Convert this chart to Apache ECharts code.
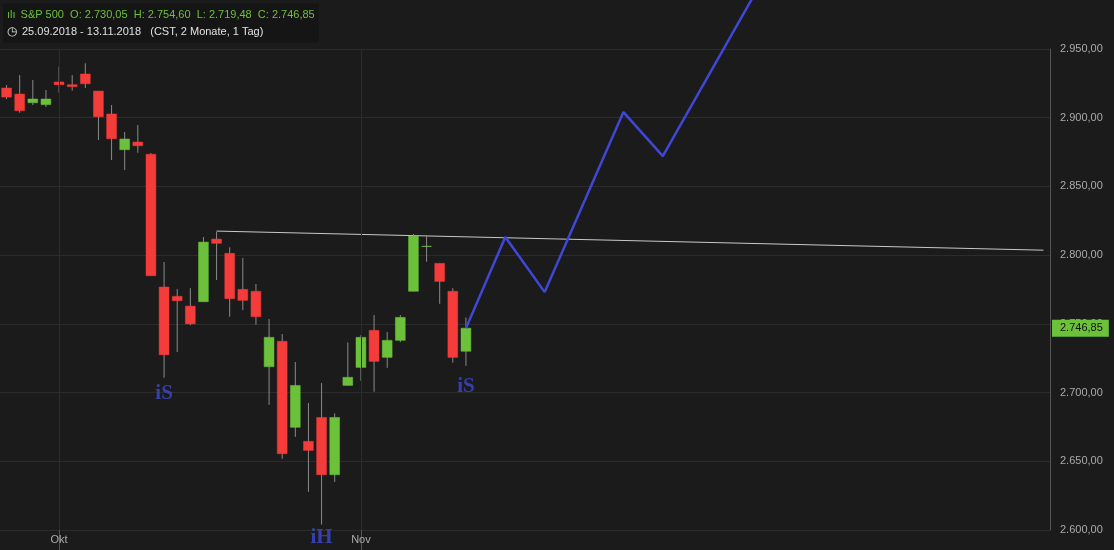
<!DOCTYPE html>
<html><head><meta charset="utf-8">
<script src="https://cdn.jsdelivr.net/npm/echarts@6/dist/echarts.min.js"></script>
<style>html,body{margin:0;background:#1b1b1b}#c{width:1114px;height:550px}</style>
</head><body><div id="c"></div>
<script>
const dates = ['25.09','26.09','27.09','28.09','01.10','02.10','03.10','04.10','05.10','08.10','09.10','10.10','11.10','12.10','15.10','16.10','17.10','18.10','19.10','22.10','23.10','24.10','25.10','26.10','29.10','30.10','31.10','01.11','02.11','05.11','06.11','07.11','08.11','09.11','12.11','13.11'];
const opens  = [2921.6,2917.2,2910.9,2909.5,2926.0,2924.0,2931.8,2919.4,2902.7,2876.7,2882.3,2873.4,2776.8,2770.0,2762.9,2766.1,2811.7,2801.3,2775.1,2773.7,2718.8,2737.3,2674.7,2664.5,2681.9,2640.2,2705.2,2718.3,2745.3,2725.6,2738.0,2773.7,2806.4,2794.0,2773.7,2730.05];
const closes = [2915.0,2905.1,2913.6,2913.6,2924.0,2922.6,2924.7,2900.7,2884.7,2884.5,2879.6,2785.0,2727.5,2766.8,2750.0,2809.5,2808.6,2768.3,2767.1,2755.2,2740.2,2655.5,2705.2,2657.9,2640.2,2681.9,2711.1,2740.2,2722.7,2738.0,2754.7,2813.9,2806.4,2780.9,2725.6,2746.85];
const lows   = [2913.6,2903.6,2909.2,2907.8,2918.2,2919.7,2921.6,2883.8,2869.2,2861.9,2874.5,2785.0,2710.8,2729.5,2749.0,2766.0,2781.9,2755.2,2760.0,2749.4,2691.1,2651.8,2667.8,2627.8,2604.0,2635.0,2705.2,2708.6,2700.6,2718.0,2736.7,2773.7,2795.2,2764.6,2721.7,2719.48];
const highs  = [2923.8,2931.0,2927.4,2920.2,2937.1,2931.0,2939.6,2919.4,2909.2,2889.6,2894.7,2874.3,2795.0,2775.3,2776.0,2813.2,2817.0,2805.7,2797.9,2779.0,2753.5,2742.6,2722.2,2692.4,2706.9,2684.9,2736.5,2741.8,2756.4,2744.0,2756.4,2815.4,2814.6,2794.0,2776.0,2754.6];
const projIdx = [35,38,41,47,50,57];
const projVal = [2746.85,2813.2,2773.1,2904.1,2872.1,2990];
const resIdx = [16,79];
const resVal = [2817.5,2803.6];
const monthLabels = {4:'Okt',27:'Nov'};
const N = 80;
const cats = []; for(let i=0;i<N;i++) cats.push(i<dates.length?dates[i]:'f'+i);
const ohlc = dates.map((d,i)=>[i,opens[i],closes[i],lows[i],highs[i]]);
const proj = new Array(N).fill(null); projIdx.forEach((x,k)=>proj[x]=projVal[k]);
const res = new Array(N).fill(null); res[resIdx[0]]=resVal[0]; res[resIdx[1]]=resVal[1];
const fmt = v => { const s=v.toFixed(2).split('.'); return s[0].replace(/\B(?=(\d{3})+(?!\d))/g,'.')+','+s[1]; };
const GREEN='#6cc13a', RED='#f43c3a';
const last = closes[closes.length-1];
const chart = echarts.init(document.getElementById('c'));
const showIdx = (i)=> monthLabels[i]!==undefined;
chart.setOption({
  backgroundColor:'#1b1b1b', animation:false,
  grid:{left:-3,right:64,top:49,bottom:20},
  xAxis:{type:'category',data:cats,boundaryGap:true,
    axisLine:{show:false},
    axisTick:{show:true,interval:(i)=>showIdx(i),alignWithLabel:true,length:20,lineStyle:{color:'#555'}},
    axisLabel:{interval:(i)=>showIdx(i),formatter:(v,i)=>monthLabels[i]||'',color:'#aaa',fontSize:11,fontFamily:'Liberation Sans',margin:4},
    splitLine:{show:false}},
  yAxis:{type:'value',position:'right',min:2600,max:2950,interval:50,
    axisLine:{show:true,lineStyle:{color:'#555'}},axisTick:{show:false},
    splitLine:{lineStyle:{color:'#2c2c2c'}},
    axisLabel:{formatter:fmt,color:'#aaa',fontSize:11,fontFamily:'Liberation Sans',margin:10}},
  title:{text:'{ic|ılı} {g|S&P 500  O: 2.730,05  H: 2.754,60  L: 2.719,48  C: 2.746,85}\n{ic2|◷} {w|25.09.2018 - 13.11.2018   (CST, 2 Monate, 1 Tag)}',
    left:3,top:4,padding:[2,4],backgroundColor:'rgba(20,20,20,0.85)',
    textStyle:{fontWeight:'normal',lineHeight:17,rich:{g:{color:GREEN,fontSize:11,fontWeight:'normal',fontFamily:'Liberation Sans'},ic:{color:GREEN,fontSize:11},ic2:{color:'#ddd',fontSize:12},w:{color:'#e0e0e0',fontSize:11,fontWeight:'normal',fontFamily:'Liberation Sans'}}}},
  series:[
    {type:'line',data:res,connectNulls:true,symbol:'none',clip:false,lineStyle:{color:'#c8c8c8',width:1},z:1,
      markLine:{symbol:'none',silent:true,animation:false,
        data:[{xAxis:4,lineStyle:{color:'#2c2c2c',width:1,type:'solid'},label:{show:false}},
              {xAxis:27,lineStyle:{color:'#2c2c2c',width:1,type:'solid'},label:{show:false}},
              {yAxis:last,lineStyle:{color:'transparent',width:0},label:{show:true,position:'end',formatter:()=>fmt(last),backgroundColor:GREEN,color:'#111',fontSize:11,fontFamily:'Liberation Sans',padding:[3,6,3,8],distance:2}}]}},
    {type:'custom',data:ohlc,clip:false,z:2,
      renderItem:(params,api)=>{
        const i=api.value(0),o=api.value(1),c=api.value(2),l=api.value(3),h=api.value(4);
        const w=api.size([1,0])[0]*0.75;
        const pH=api.coord([i,h]),pL=api.coord([i,l]),pO=api.coord([i,o]),pC=api.coord([i,c]);
        const col=c>=o?GREEN:RED;
        const top=Math.min(pO[1],pC[1]),bh=Math.max(Math.abs(pO[1]-pC[1]),1);
        return {type:'group',children:[
          {type:'line',shape:{x1:pH[0],y1:pH[1],x2:pL[0],y2:pL[1]},style:{stroke:'#8a8a8a',lineWidth:1}},
          bh<=1.5?{type:'line',shape:{x1:pO[0]-w/2,y1:pO[1],x2:pO[0]+w/2,y2:pO[1]},style:{stroke:col,lineWidth:1}}:
          {type:'rect',shape:{x:pO[0]-w/2,y:top,width:w,height:bh},style:{fill:col,stroke:col,lineWidth:0.5}}
        ]};
      }},
    {type:'line',data:proj,connectNulls:true,symbol:'none',clip:false,z:3,lineStyle:{color:'#3f47d6',width:2.5}},
    {type:'scatter',z:4,symbolSize:1,itemStyle:{color:'transparent'},clip:false,
      data:[{name:'iS',value:[11.6,2699.6]},{name:'iS',value:[35,2704.7]},{name:'iH',value:[23.9,2594.8]}],
      label:{show:true,position:'inside',color:'#3f47d6',fontSize:21,fontWeight:'bold',fontFamily:'Liberation Serif',formatter:p=>p.name}}
  ]
});
</script></body></html>
